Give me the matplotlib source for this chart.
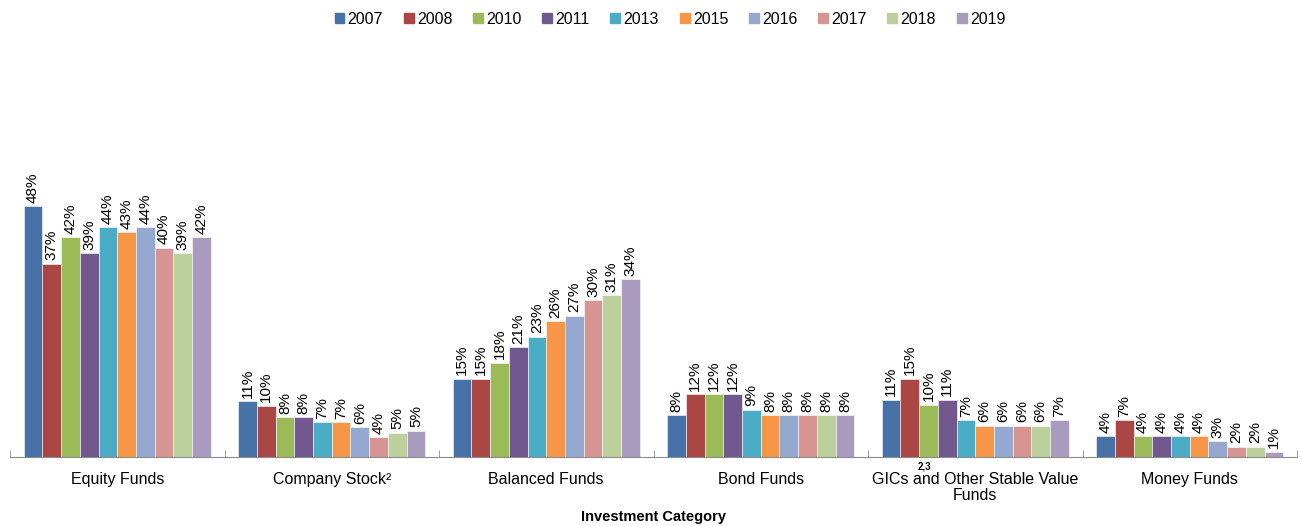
import matplotlib.pyplot as plt
from matplotlib.patches import Patch
from matplotlib.ticker import FixedLocator
import numpy as np

plt.rcParams['font.family'] = ['Liberation Sans', 'DejaVu Sans']

categories = ["Equity Funds", "Company Stock\u00b2", "Balanced Funds", "Bond Funds",
              "GICs and Other Stable Value\nFunds", "Money Funds"]
years = ["2007", "2008", "2010", "2011", "2013", "2015", "2016", "2017", "2018", "2019"]

# share of assets (%) per category, one list per year
equity = [48, 37, 42, 39, 44, 43, 44, 40, 39, 42]
company_stock = [10.7, 9.8, 7.6, 7.6, 6.7, 6.7, 5.7, 3.8, 4.6, 5.0]
balanced = [15, 15, 18, 21, 23, 26, 27, 30, 31, 34]
bond = [8, 12, 12, 12, 9, 8, 8, 8, 8, 8]
gics = [11, 15, 10, 11, 7, 6, 6, 6, 6, 7]
money = [4, 7, 4, 4, 4, 4, 3, 2, 2, 1]

colors = ["#4672A7", "#AA4643", "#9BBB59", "#71588F", "#4BACC6",
          "#F79646", "#95A9D0", "#D69593", "#BBD09A", "#A99BBE"]

data = np.array([equity, company_stock, balanced, bond, gics, money])  # cat x year

fig = plt.figure(figsize=(13.02, 5.26), dpi=100)
ax = fig.add_axes([10 / 1302, 69 / 526, 1287 / 1302, 392 / 526])

x = np.arange(len(categories))
n = len(years)
w = 0.0872
for j, yr in enumerate(years):
    xs = x + (j - (n - 1) / 2) * w
    vals = data[:, j]
    ax.bar(xs, vals, width=w, color=colors[j], edgecolor="white", linewidth=0.4, label=yr)
    for xi, v in zip(xs, vals):
        ax.annotate(f"{round(v):.0f}%", (xi, v), xytext=(0, 2.5), textcoords="offset points",
                    rotation=90, ha="center", va="bottom", fontsize=11)

ax.set_xlim(-0.5, len(categories) - 0.5)
ax.set_ylim(0, 75)
ax.set_yticks([])
for s in ["left", "right", "top"]:
    ax.spines[s].set_visible(False)
ax.spines["bottom"].set_color("#8c8c8c")

ax.set_xticks(x)
ax.set_xticklabels(categories, fontsize=11.5, linespacing=1.1)
ax.tick_params(axis="x", which="major", length=0, pad=11)
ax.xaxis.set_minor_locator(FixedLocator(np.arange(-0.5, len(categories), 1.0)))
ax.tick_params(axis="x", which="minor", length=5, direction="in", color="#8c8c8c")

# superscript footnote on the GICs label
ax.annotate("2,3", (4 - 0.235, 0), xytext=(0, -7), textcoords="offset points",
            ha="center", va="center", fontsize=7, fontweight="bold")

fig.text(0.5 * (10 + 1297) / 1302, 1 - 517 / 526, "Investment Category",
         ha="center", va="center", fontsize=10.5, fontweight="bold")

handles = [Patch(color=c, label=y) for c, y in zip(colors, years)]
fig.legend(handles=handles, loc="upper center", bbox_to_anchor=(0.5145, 1.005), ncol=10,
           frameon=False, fontsize=11.5, handlelength=0.62, handleheight=0.62,
           handletextpad=0.2, columnspacing=1.3)

fig.savefig("out.png", dpi=100)
